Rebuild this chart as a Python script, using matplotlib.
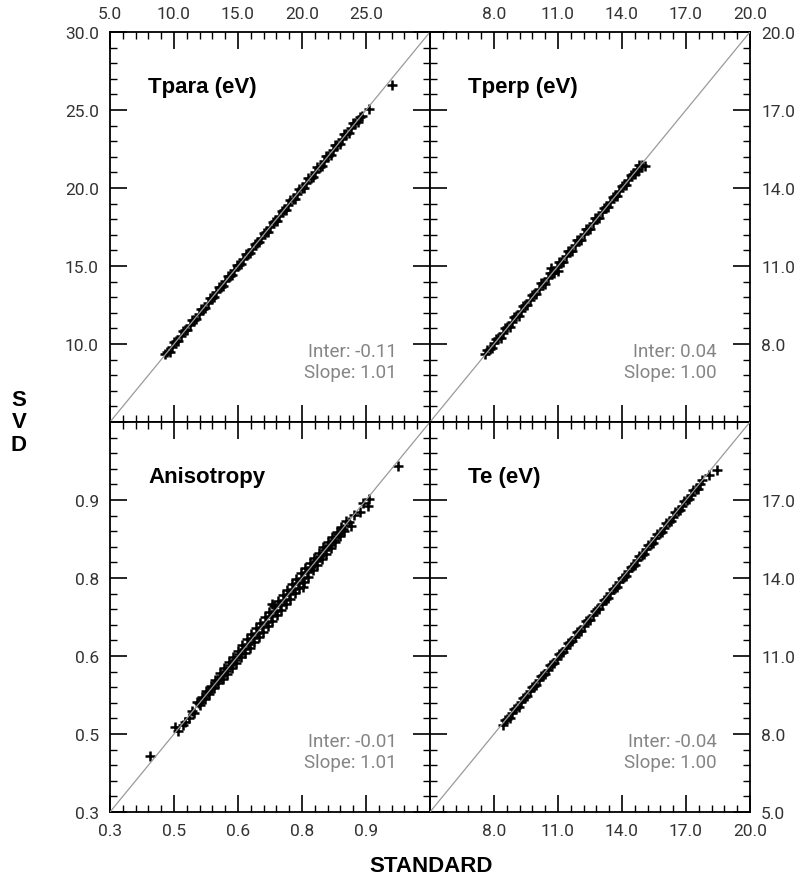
import numpy as np
import matplotlib
matplotlib.use("Agg")
import matplotlib.pyplot as plt

# ---- data (STANDARD vs SVD) ----
panel_titles = ["Tpara (eV)", "Tperp (eV)", "Anisotropy", "Te (eV)"]
inters = ["-0.11", "0.04", "-0.01", "-0.04"]
slopes = ["1.01", "1.00", "1.01", "1.00"]

tpara_std = [9.30, 9.47, 9.65, 9.82, 10.00, 10.17, 10.35, 10.52, 10.70, 10.87,
             11.05, 11.22, 11.40, 11.57, 11.75, 11.92, 12.10, 12.27, 12.45, 12.62,
             12.80, 12.97, 13.15, 13.32, 13.50, 13.67, 13.85, 14.02, 14.20, 14.37,
             14.55, 14.72, 14.90, 15.07, 15.25, 15.42, 15.60, 15.77, 15.95, 16.12,
             16.30, 16.47, 16.65, 16.82, 17.00, 17.17, 17.35, 17.52, 17.70, 17.87,
             18.05, 18.22, 18.40, 18.57, 18.75, 18.92, 19.10, 19.27, 19.45, 19.62,
             19.80, 19.97, 20.15, 20.32, 20.50, 20.67, 20.85, 21.02, 21.20, 21.37,
             21.55, 21.72, 21.90, 22.07, 22.25, 22.42, 22.60, 22.77, 22.95, 23.12,
             23.30, 23.47, 23.65, 23.82, 24.00, 24.17, 24.35, 24.52, 24.70,
             25.20, 27.00]
tpara_svd = [9.36, 9.47, 9.51, 9.82, 10.14, 10.17, 10.21, 10.52, 10.84, 10.87,
             10.91, 11.22, 11.54, 11.57, 11.61, 11.92, 12.24, 12.27, 12.31, 12.62,
             12.94, 12.97, 13.01, 13.32, 13.64, 13.67, 13.71, 14.02, 14.34, 14.37,
             14.41, 14.72, 15.04, 15.07, 15.11, 15.42, 15.74, 15.77, 15.81, 16.12,
             16.44, 16.47, 16.51, 16.82, 17.14, 17.17, 17.21, 17.52, 17.84, 17.87,
             17.91, 18.22, 18.54, 18.57, 18.61, 18.92, 19.24, 19.27, 19.31, 19.62,
             19.94, 19.97, 20.01, 20.32, 20.64, 20.67, 20.71, 21.02, 21.34, 21.37,
             21.41, 21.72, 22.04, 22.07, 22.11, 22.42, 22.74, 22.77, 22.81, 23.12,
             23.44, 23.47, 23.51, 23.82, 24.14, 24.17, 24.21, 24.52, 24.62,
             25.05, 26.60]

tperp_std = [7.58, 7.68, 7.79, 7.89, 8.00, 8.10, 8.21, 8.31, 8.42, 8.52,
             8.63, 8.73, 8.84, 8.94, 9.05, 9.15, 9.26, 9.36, 9.47, 9.57,
             9.68, 9.78, 9.89, 9.99, 10.10, 10.20, 10.31, 10.41, 10.52, 10.62,
             10.73, 10.83, 10.94, 11.04, 11.15, 11.25, 11.36, 11.46, 11.57, 11.67,
             11.78, 11.88, 11.99, 12.09, 12.20, 12.30, 12.41, 12.51, 12.62, 12.72,
             12.83, 12.93, 13.04, 13.14, 13.25, 13.35, 13.46, 13.56, 13.67, 13.77,
             13.88, 13.98, 14.09, 14.19, 14.30, 14.40, 14.51, 14.61, 14.72, 14.82,
             14.93, 10.68, 11.02, 14.76, 15.08]
tperp_svd = [7.62, 7.78, 7.81, 7.83, 8.02, 8.20, 8.23, 8.25, 8.44, 8.62,
             8.65, 8.67, 8.86, 9.04, 9.07, 9.09, 9.28, 9.47, 9.49, 9.49,
             9.70, 9.90, 9.91, 9.91, 10.12, 10.33, 10.33, 10.32, 10.54, 10.75,
             10.75, 10.73, 10.96, 11.17, 11.17, 11.15, 11.38, 11.59, 11.59, 11.57,
             11.80, 12.00, 12.01, 11.99, 12.22, 12.42, 12.43, 12.42, 12.64, 12.83,
             12.85, 12.84, 13.06, 13.24, 13.27, 13.27, 13.48, 13.66, 13.69, 13.70,
             13.90, 14.08, 14.11, 14.12, 14.32, 14.49, 14.53, 14.54, 14.74, 14.88,
             14.87, 10.94, 10.80, 14.66, 14.86]

aniso_std = [0.394, 0.452, 0.459, 0.470, 0.476, 0.484, 0.492, 0.498,
             0.505, 0.509, 0.512, 0.516, 0.519, 0.523, 0.526, 0.530, 0.533, 0.537,
             0.540, 0.544, 0.547, 0.551, 0.554, 0.558, 0.561, 0.565, 0.568, 0.572,
             0.575, 0.579, 0.582, 0.586, 0.589, 0.593, 0.596, 0.600, 0.603, 0.607,
             0.610, 0.614, 0.617, 0.621, 0.624, 0.628, 0.631, 0.635, 0.638, 0.642,
             0.645, 0.649, 0.652, 0.656, 0.659, 0.663, 0.666, 0.670, 0.673, 0.677,
             0.680, 0.684, 0.687, 0.691, 0.694, 0.698, 0.701, 0.705, 0.708, 0.712,
             0.715, 0.719, 0.722, 0.726, 0.729, 0.733, 0.736, 0.740, 0.743, 0.747,
             0.750, 0.754, 0.757, 0.761, 0.764, 0.768, 0.771, 0.775, 0.778, 0.782,
             0.785, 0.789, 0.792, 0.796, 0.799, 0.803, 0.806, 0.810, 0.813, 0.817,
             0.820, 0.824, 0.827, 0.831, 0.834, 0.838, 0.841, 0.845, 0.848, 0.852,
             0.860, 0.866, 0.872, 0.885, 0.892, 0.904, 0.908, 0.974, 0.680, 0.752]
aniso_svd = [0.408, 0.463, 0.456, 0.468, 0.473, 0.481, 0.494, 0.490,
             0.511, 0.509, 0.506, 0.522, 0.519, 0.517, 0.532, 0.530, 0.527, 0.543,
             0.540, 0.538, 0.553, 0.551, 0.548, 0.567, 0.561, 0.556, 0.577, 0.572,
             0.566, 0.588, 0.582, 0.577, 0.598, 0.593, 0.587, 0.609, 0.603, 0.598,
             0.622, 0.614, 0.605, 0.633, 0.624, 0.616, 0.643, 0.635, 0.626, 0.654,
             0.645, 0.637, 0.664, 0.656, 0.647, 0.675, 0.666, 0.658, 0.685, 0.677,
             0.668, 0.696, 0.687, 0.679, 0.706, 0.698, 0.689, 0.717, 0.708, 0.700,
             0.727, 0.719, 0.710, 0.738, 0.729, 0.721, 0.748, 0.740, 0.731, 0.759,
             0.750, 0.742, 0.769, 0.761, 0.752, 0.778, 0.771, 0.765, 0.788, 0.782,
             0.775, 0.799, 0.792, 0.786, 0.809, 0.803, 0.796, 0.820, 0.813, 0.807,
             0.828, 0.824, 0.819, 0.839, 0.834, 0.830, 0.849, 0.845, 0.840, 0.860,
             0.858, 0.850, 0.872, 0.877, 0.895, 0.888, 0.901, 0.966, 0.700, 0.732]

te_std = [8.42, 8.52, 8.63, 8.73, 8.84, 8.94, 9.05, 9.15, 9.26, 9.36,
          9.47, 9.57, 9.68, 9.78, 9.89, 9.99, 10.10, 10.20, 10.31, 10.41,
          10.52, 10.62, 10.73, 10.83, 10.94, 11.04, 11.15, 11.25, 11.36, 11.46,
          11.57, 11.67, 11.78, 11.88, 11.99, 12.09, 12.20, 12.30, 12.41, 12.51,
          12.62, 12.72, 12.83, 12.93, 13.04, 13.14, 13.25, 13.35, 13.46, 13.56,
          13.67, 13.77, 13.88, 13.98, 14.09, 14.19, 14.30, 14.40, 14.51, 14.61,
          14.72, 14.82, 14.93, 15.03, 15.14, 15.24, 15.35, 15.45, 15.56, 15.66,
          15.77, 15.87, 15.98, 16.08, 16.19, 16.29, 16.40, 16.50, 16.61, 16.71,
          16.82, 16.92, 17.03, 17.13, 17.24, 17.34, 17.45, 17.55, 17.66, 17.76,
          18.10, 18.45]
te_svd = [8.33, 8.55, 8.59, 8.62, 8.80, 8.97, 9.01, 9.04, 9.22, 9.39,
          9.43, 9.46, 9.64, 9.81, 9.85, 9.88, 10.06, 10.23, 10.27, 10.30,
          10.48, 10.65, 10.69, 10.72, 10.90, 11.07, 11.11, 11.14, 11.32, 11.49,
          11.53, 11.56, 11.74, 11.91, 11.95, 11.98, 12.16, 12.33, 12.37, 12.40,
          12.58, 12.75, 12.79, 12.82, 13.00, 13.17, 13.21, 13.24, 13.42, 13.59,
          13.63, 13.66, 13.84, 14.01, 14.05, 14.08, 14.26, 14.43, 14.47, 14.50,
          14.68, 14.85, 14.89, 14.92, 15.10, 15.27, 15.31, 15.34, 15.52, 15.69,
          15.73, 15.76, 15.94, 16.11, 16.15, 16.18, 16.36, 16.53, 16.57, 16.60,
          16.78, 16.95, 16.99, 17.02, 17.20, 17.37, 17.41, 17.44, 17.62, 17.78,
          17.95, 18.15]

temp_ticks_a = [5, 10, 15, 20, 25, 30]
temp_ticks_b = [5, 8, 11, 14, 17, 20]
aniso_ticks = [0.3, 0.45, 0.6, 0.75, 0.9, 1.05]

tpara_xlab = ["5.0", "10.0", "15.0", "20.0", "25.0", ""]
tpara_ylab = ["", "10.0", "15.0", "20.0", "25.0", "30.0"]
tperp_xlab = ["", "8.0", "11.0", "14.0", "17.0", "20.0"]
tperp_ylab = ["", "8.0", "11.0", "14.0", "17.0", "20.0"]
aniso_xlab = ["0.3", "0.5", "0.6", "0.8", "0.9", ""]
aniso_ylab = ["0.3", "0.5", "0.6", "0.8", "0.9", ""]
te_xlab = ["", "8.0", "11.0", "14.0", "17.0", "20.0"]
te_ylab = ["5.0", "8.0", "11.0", "14.0", "17.0", ""]

plt.rcParams['font.family'] = ['Roboto', 'DejaVu Sans']

fig = plt.figure(figsize=(8.01, 8.78), dpi=100)
W, H = 801.0, 878.0

def make_ax(px_left, px_top):
    return fig.add_axes([px_left / W, 1 - (px_top + 390) / H, 320 / W, 390 / H])

panels = [
    (make_ax(110, 33), tpara_std, tpara_svd, temp_ticks_a, tpara_xlab, tpara_ylab, "top", "left"),
    (make_ax(430, 33), tperp_std, tperp_svd, temp_ticks_b, tperp_xlab, tperp_ylab, "top", "right"),
    (make_ax(110, 423), aniso_std, aniso_svd, aniso_ticks, aniso_xlab, aniso_ylab, "bottom", "left"),
    (make_ax(430, 423), te_std, te_svd, temp_ticks_b, te_xlab, te_ylab, "bottom", "right"),
]

for i, (ax, xs, ys, ticks, xlab, ylab, xside, yside) in enumerate(panels):
    lo, hi = ticks[0], ticks[-1]
    ax.plot(xs, ys, '+', color='black', ms=7, mew=1.8, zorder=2)
    ax.plot([lo, hi], [lo, hi], color='#9a9a9a', lw=0.9, zorder=3)
    ax.set_xlim(lo, hi)
    ax.set_ylim(lo, hi)
    ax.set_xticks(ticks)
    ax.set_yticks(ticks)
    minors = np.linspace(lo, hi, 26)
    ax.set_xticks(minors, minor=True)
    ax.set_yticks(minors, minor=True)
    ax.set_xticklabels(xlab)
    ax.set_yticklabels(ylab)
    ax.tick_params(which='both', direction='in', top=True, bottom=True, left=True, right=True,
                   labeltop=(xside == "top"), labelbottom=(xside == "bottom"),
                   labelleft=(yside == "left"), labelright=(yside == "right"),
                   labelsize=12.5, labelcolor='#333333', pad=8)
    ax.tick_params(which='major', length=12, width=1.2)
    ax.tick_params(which='minor', length=5, width=1.0)
    for s in ax.spines.values():
        s.set_linewidth(1.3)
    ax.text(0.119, 0.86, panel_titles[i], transform=ax.transAxes, fontsize=16,
            fontweight='bold', family='Liberation Sans', va='center', ha='left')
    ax.text(0.895, 0.182, "Inter: " + inters[i], transform=ax.transAxes, fontsize=13.5,
            color='#858585', ha='right', va='center')
    ax.text(0.895, 0.128, "Slope: " + slopes[i], transform=ax.transAxes, fontsize=13.5,
            color='#858585', ha='right', va='center')

fig.text(431 / W, 1 - 867 / H, "STANDARD", fontsize=16, fontweight='bold',
         family='Liberation Sans', ha='center', va='center')
fig.text(19 / W, 1 - 423 / H, "S\nV\nD", fontsize=16, fontweight='bold',
         family='Liberation Sans', ha='center', va='center', linespacing=1.1)

fig.savefig("out.png", dpi=100)
plt.close(fig)
